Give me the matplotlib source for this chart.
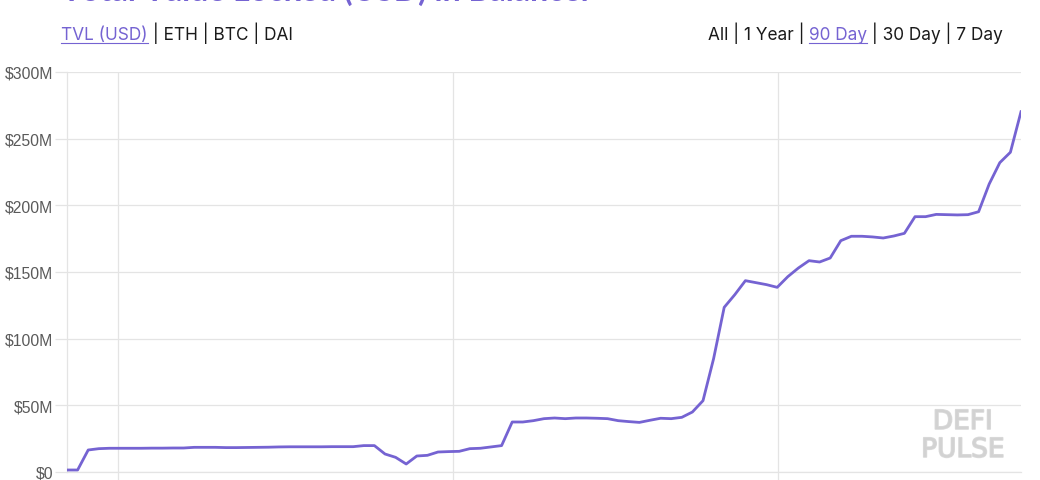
import numpy as np
import matplotlib.pyplot as plt
import matplotlib.patheffects as pe
from matplotlib.ticker import FuncFormatter

# valores de TVL (milhoes de USD), um por dia, 90 dias
tvl = [1.5, 1.5, 16.5, 17.5, 17.8, 17.8, 17.8, 17.8, 17.9, 17.9,
       18.0, 18.0, 18.5, 18.5, 18.5, 18.3, 18.3, 18.4, 18.5, 18.6,
       18.8, 18.9, 18.9, 18.9, 18.9, 19.0, 19.0, 19.0, 19.8, 19.8,
       13.5, 11.0, 6.0, 12.0, 12.5, 15.0, 15.3, 15.5, 17.5, 17.8,
       18.8, 19.8, 37.5, 37.5, 38.5, 40.0, 40.5, 40.0, 40.5, 40.5,
       40.3, 40.0, 38.5, 37.8, 37.2, 38.8, 40.3, 40.0, 41.0, 45.0,
       53.5, 85.0, 123.5, 133.0, 143.5, 142.0, 140.5, 138.5, 146.5, 153.0,
       158.5, 157.5, 160.5, 173.5, 176.8, 176.8, 176.3, 175.5, 177.0, 179.0,
       191.5, 191.5, 193.2, 193.0, 192.8, 193.0, 195.2, 216.0, 232.0, 239.8,
       270.2]
dias = np.arange(len(tvl))

# inicio de cada mes (em dias) - linhas verticais da grelha
inicio_meses = [4.8, 36.4, 67.1]
y_ticks = [0, 50, 100, 150, 200, 250, 300]

titulo = "Total Value Locked (USD) in Balancer"
menu_esq = ["TVL (USD)", " | ETH | BTC | DAI"]
menu_dir = ["All | 1 Year | ", "90 Day", " | 30 Day | 7 Day"]

roxo = "#7563d2"
cinza_grelha = "#e4e4e4"

fig = plt.figure(figsize=(10.4, 4.81), dpi=100)
ax = fig.add_axes([67 / 1040, 1 - 473 / 481, (1021 - 67) / 1040, 400 / 481])

ax.plot(dias, tvl, color=roxo, linewidth=2.0, solid_joinstyle="round", zorder=3)

ax.set_xlim(0, 90)
ax.set_ylim(0, 300)
ax.set_xticks(inicio_meses)
ax.set_xticklabels([])
ax.set_yticks(y_ticks)
ax.yaxis.set_major_formatter(FuncFormatter(lambda v, p: "$0" if v == 0 else f"${int(v)}M"))

ax.grid(True, color=cinza_grelha, linewidth=0.9)
ax.tick_params(axis="x", length=6, color=cinza_grelha, width=0.9)
ax.tick_params(axis="y", length=8.5, color=cinza_grelha, width=0.9, pad=1.5,
               labelsize=11.3, labelcolor="#5a5a5a")
for lbl in ax.get_yticklabels():
    lbl.set_fontfamily("Liberation Sans")

for lado in ["top", "right"]:
    ax.spines[lado].set_visible(False)
ax.spines["left"].set_color(cinza_grelha)
ax.spines["bottom"].set_color(cinza_grelha)
ax.spines["left"].set_linewidth(0.9)
ax.spines["bottom"].set_linewidth(0.9)

# marca de agua
contorno = [pe.withStroke(linewidth=1.2, foreground="#dadada")]
ax.text(0.939, 0.1075, "DEFI", transform=ax.transAxes, ha="center", va="baseline",
        fontsize=19, color="#d2d2d2", family="DejaVu Sans", path_effects=contorno)
ax.text(0.939, 0.0375, "PULSE", transform=ax.transAxes, ha="center", va="baseline",
        fontsize=19, color="#d2d2d2", family="DejaVu Sans", path_effects=contorno)

# titulo (cortado no topo da imagem)
fig.text(62 / 1040, 1 - 1 / 481, titulo, ha="left", va="baseline",
         fontsize=23, fontweight="bold", color=roxo, family="Lato")

# menus de cima
renderer = fig.canvas.get_renderer()
fonte_menu = dict(fontsize=12.4, family="Inter", va="baseline")
y_menu = 1 - 40 / 481


def escrever(partes, x0, sublinhado):
    x = x0
    for k, parte in enumerate(partes):
        cor = roxo if k == sublinhado else "#1a1a1a"
        t = fig.text(x, y_menu, parte, color=cor, ha="left", **fonte_menu)
        bb = t.get_window_extent(renderer)
        if k == sublinhado:
            fig.add_artist(plt.Line2D([bb.x0 / 1040, bb.x1 / 1040], [1 - 44 / 481, 1 - 44 / 481],
                                      color=roxo, linewidth=0.8))
        x = bb.x1 / 1040
    return x


escrever(menu_esq, 61 / 1040, 0)

# menu da direita: medir a largura primeiro para alinhar a direita
larg = 0
for parte in menu_dir:
    t = fig.text(0, 0, parte, **fonte_menu)
    larg += t.get_window_extent(renderer).width
    t.remove()
escrever(menu_dir, (1003 - larg) / 1040, 1)

fig.savefig("out.png", dpi=100)
